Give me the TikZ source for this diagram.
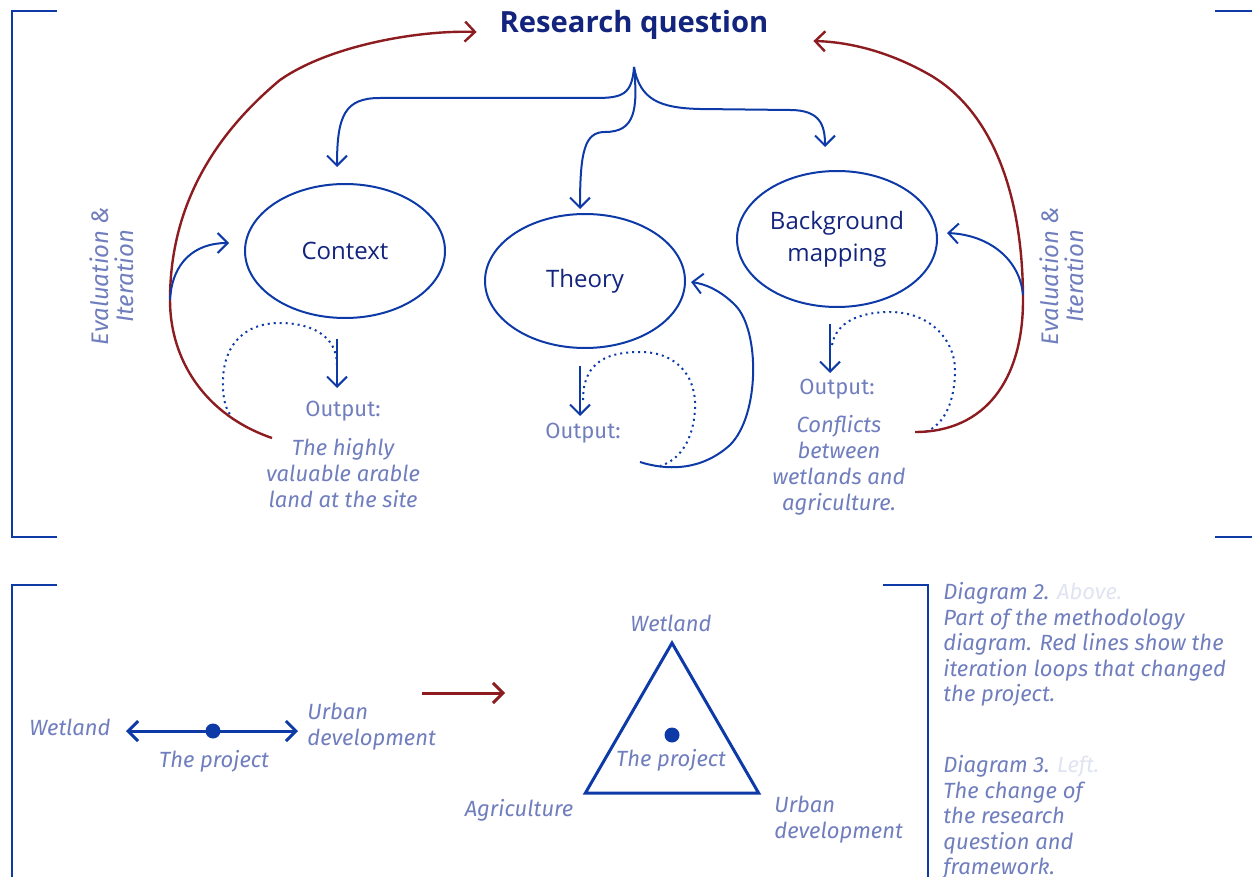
\documentclass[tikz,border=0pt]{standalone}
\usepackage{fontspec}
\setmainfont{Open Sans}
\newfontfamily\fira{Fira Sans}
\usetikzlibrary{arrows.meta,shapes.geometric}
\definecolor{navy}{RGB}{18,36,125}
\definecolor{lineblue}{RGB}{14,58,168}
\definecolor{soft}{RGB}{112,126,190}
\definecolor{loopred}{RGB}{140,28,32}
\definecolor{faint}{RGB}{224,228,242}

\begin{document}
\begin{tikzpicture}[x=0.5pt,y=-0.5pt,>={Straight Barb[length=5pt,width=10pt]}]
  \tikzstyle{link} = [draw=lineblue, line width=1pt, ->]
  \tikzstyle{redloop} = [draw=loopred, line width=1.2pt, ->]
  \tikzstyle{oval} = [ellipse, draw=lineblue, line width=1pt, text=navy, font=\fontsize{12}{16}\selectfont, minimum width=100pt, minimum height=67pt, inner sep=0pt, align=center]
  \tikzstyle{lbl} = [text=soft, font=\fira\fontsize{11}{13}\selectfont, align=center, inner sep=0pt]
  \tikzstyle{note} = [lbl, font=\fira\itshape\fontsize{11}{13}\selectfont]
  \tikzstyle{pdot} = [circle, fill=lineblue, inner sep=0pt, minimum size=7.5pt]
  \useasboundingbox (0,0) rectangle (1252,877);

  % frames
  \draw[lineblue, line width=1pt] (57,11) -- (12,11) -- (12,537) -- (57,537);
  \draw[lineblue, line width=1pt] (1215,11) -- (1252,11) (1215,537) -- (1252,537);
  \draw[lineblue, line width=1pt] (57,585) -- (12,585) -- (12,877);
  \draw[lineblue, line width=1pt] (883,585) -- (928,585) -- (928,877);

  % diagram 2
  \node[font=\bfseries\fontsize{14.6}{16}\selectfont, text=navy] (rq) at (634,25) {Research question};
  \coordinate (fan) at (634,67);
  \node[oval] (ctx) at (345,251) {Context};
  \node[oval] (thy) at (585,281) {Theory};
  \node[oval, minimum height=68pt] (bg) at (837,239) {Background\\mapping};

  \node[lbl] (o1) at (343,411) {Output:};
  \node[note] (t1) at (343,473) {The highly\\valuable arable\\land at the site};
  \node[lbl] (o2) at (583,433) {Output:};
  \node[lbl] (o3) at (837,389) {Output:};
  \node[note] (t3) at (839,465) {Conflicts\\between\\wetlands and\\agriculture.};

  \node[note, rotate=90, font=\fira\itshape\fontsize{12}{12.5}\selectfont] (ev1) at (112,276) {Evaluation \&\\Iteration};
  \node[note, rotate=90, font=\fira\itshape\fontsize{12}{12.5}\selectfont] (ev2) at (1062,276) {Evaluation \&\\Iteration};

  \draw[link] (fan) .. controls (632,95) and (622,98) .. (595,98) -- (380,98)
    .. controls (345,98) and (337,115) .. ([shift={(-8,-16)}]ctx.north);
  \draw[link] (fan) .. controls (638,110) and (635,132) .. (605,132)
    .. controls (585,132) and (580,150) .. ([shift={(-5,-4)}]thy.north);
  \draw[link] (fan) .. controls (640,100) and (660,108) .. (700,109) -- (790,110)
    .. controls (820,110) and (825,125) .. ([shift={(-12,-23)}]bg.north);

  \draw[link] ([shift={(-8,20)}]ctx.south) -- ++(0,49);
  \draw[link] ([shift={(-5,17)}]thy.south) -- ++(0,50);
  \draw[link] ([shift={(-7,16)}]bg.south) -- ++(0,49);

  \draw[lineblue, line width=1pt, dotted] (337,365) .. controls (337,335) and (310,323) .. (280,323)
    .. controls (240,323) and (222,350) .. (223,385) .. controls (223,400) and (226,410) .. (232,417);
  \draw[lineblue, line width=1pt, dotted] (583,400) .. controls (583,360) and (610,352) .. (640,352)
    .. controls (680,352) and (697,380) .. (695,410) .. controls (693,440) and (680,460) .. (660,466);
  \draw[lineblue, line width=1pt, dotted] (832,345) .. controls (836,322) and (860,312) .. (890,312)
    .. controls (930,312) and (955,340) .. (955,370) .. controls (955,400) and (945,425) .. (925,432);

  \draw[link] (640,462) .. controls (665,470) and (700,472) .. (730,445)
    .. controls (760,415) and (760,330) .. (735,305) .. controls (720,290) and (705,284) .. ([shift={(5,1)}]thy.east);

  \coordinate (r1) at (272,438);
  \coordinate (r2) at (915,432);
  \draw[redloop] (r1) .. controls (205,415) and (170,360) .. (170,300)
    .. controls (170,200) and (220,130) .. (280,80) .. controls (330,45) and (420,30) .. ([shift={(-16,7)}]rq.west);
  \draw[redloop] (r2) .. controls (985,432) and (1023,380) .. (1023,300)
    .. controls (1023,190) and (990,110) .. (930,75) .. controls (890,52) and (850,42) .. ([shift={(38,16)}]rq.east);
  \draw[link] (170,300) .. controls (172,262) and (195,243) .. ([shift={(-15,-8)}]ctx.west);
  \draw[link] (1023,295) .. controls (1020,260) and (990,235) .. ([shift={(9,-6)}]bg.east);

  % diagram 3
  \node[note] (w1) at (70,727) {Wetland};
  \node[note, align=left, anchor=west] (u1) at (307,727) {Urban\\development};
  \node[pdot] (p1) at (213,731) {};
  \node[note] (pt1) at (214,761) {The project};
  \draw[lineblue, line width=1.5pt, <->] ([shift={(15,4)}]w1.east) -- ([shift={(-9,4)}]u1.west);

  \coordinate (a1) at (422,693);
  \coordinate (a2) at (505,693);
  \draw[redloop, line width=1.5pt] (a1) -- (a2);

  \node[regular polygon, regular polygon sides=3, draw=lineblue, line width=1.5pt, minimum size=100pt, inner sep=0pt] (tri) at (672,743) {};
  \node[pdot] (p2) at (672,735) {};
  \node[note] (pt2) at (671,760) {The project};
  \node[note] (w2) at (671,623) {Wetland};
  \node[note] (ag) at (519,810) {Agriculture};
  \node[note, align=left, anchor=west] (u2) at (774,820) {Urban\\development};

  \node[note, align=left, anchor=north west, font=\fira\itshape\fontsize{11}{12.75}\selectfont] (cap1) at (943,582) {Diagram 2. \textcolor{faint}{Above.}\\Part of the methodology\\diagram. Red lines show the\\iteration loops that changed\\the project.};
  \node[note, align=left, anchor=north west, font=\fira\itshape\fontsize{11}{12.75}\selectfont] (cap2) at (943,755) {Diagram 3. \textcolor{faint}{Left.}\\The change of\\the research\\question and\\framework.};
\end{tikzpicture}
\end{document}
